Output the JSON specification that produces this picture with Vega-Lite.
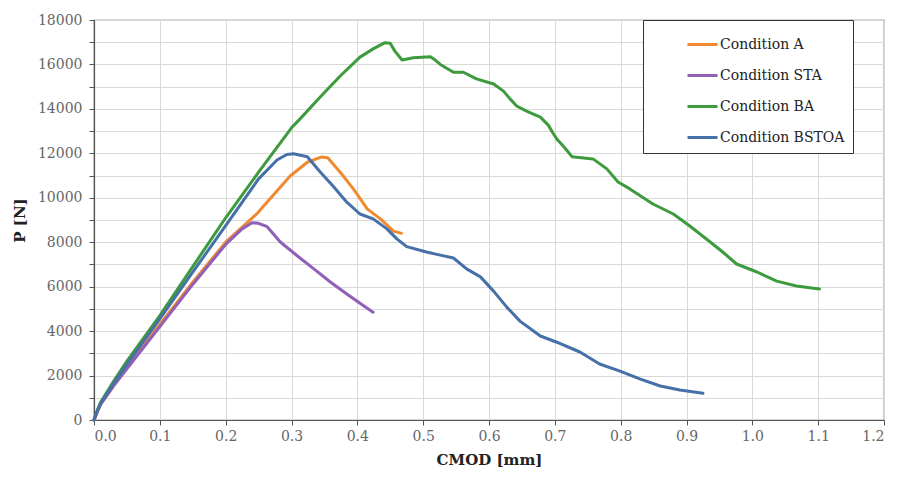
{
  "$schema": "https://vega.github.io/schema/vega-lite/v6.json",
  "width": 790,
  "height": 400,
  "autosize": {"type": "none"},
  "padding": {"left": 94, "top": 20, "right": 13, "bottom": 60},
  "background": "white",
  "config": {
    "view": {"stroke": "#555555", "strokeWidth": 1.2},
    "font": "DejaVu Serif"
  },
  "data": {
    "values": [
      {"c": "Condition A", "x": 0, "y": 0},
      {"c": "Condition A", "x": 0.005, "y": 380},
      {"c": "Condition A", "x": 0.01, "y": 700},
      {"c": "Condition A", "x": 0.03, "y": 1550},
      {"c": "Condition A", "x": 0.05, "y": 2350},
      {"c": "Condition A", "x": 0.1, "y": 4300},
      {"c": "Condition A", "x": 0.15, "y": 6200},
      {"c": "Condition A", "x": 0.2, "y": 8000},
      {"c": "Condition A", "x": 0.248, "y": 9300},
      {"c": "Condition A", "x": 0.298, "y": 10980},
      {"c": "Condition A", "x": 0.324, "y": 11600},
      {"c": "Condition A", "x": 0.345, "y": 11830},
      {"c": "Condition A", "x": 0.355, "y": 11800},
      {"c": "Condition A", "x": 0.374, "y": 11150},
      {"c": "Condition A", "x": 0.394, "y": 10400},
      {"c": "Condition A", "x": 0.415, "y": 9500},
      {"c": "Condition A", "x": 0.435, "y": 9050},
      {"c": "Condition A", "x": 0.455, "y": 8500},
      {"c": "Condition A", "x": 0.467, "y": 8400},

      {"c": "Condition STA", "x": 0, "y": 0},
      {"c": "Condition STA", "x": 0.005, "y": 380},
      {"c": "Condition STA", "x": 0.01, "y": 700},
      {"c": "Condition STA", "x": 0.03, "y": 1550},
      {"c": "Condition STA", "x": 0.05, "y": 2300},
      {"c": "Condition STA", "x": 0.1, "y": 4200},
      {"c": "Condition STA", "x": 0.15, "y": 6100},
      {"c": "Condition STA", "x": 0.2, "y": 7900},
      {"c": "Condition STA", "x": 0.225, "y": 8600},
      {"c": "Condition STA", "x": 0.24, "y": 8880},
      {"c": "Condition STA", "x": 0.25, "y": 8850},
      {"c": "Condition STA", "x": 0.263, "y": 8700},
      {"c": "Condition STA", "x": 0.283, "y": 8010},
      {"c": "Condition STA", "x": 0.309, "y": 7380},
      {"c": "Condition STA", "x": 0.334, "y": 6800},
      {"c": "Condition STA", "x": 0.359, "y": 6210},
      {"c": "Condition STA", "x": 0.384, "y": 5670},
      {"c": "Condition STA", "x": 0.41, "y": 5130},
      {"c": "Condition STA", "x": 0.424, "y": 4850},

      {"c": "Condition BA", "x": 0, "y": 0},
      {"c": "Condition BA", "x": 0.005, "y": 450},
      {"c": "Condition BA", "x": 0.01, "y": 800},
      {"c": "Condition BA", "x": 0.03, "y": 1750},
      {"c": "Condition BA", "x": 0.05, "y": 2650},
      {"c": "Condition BA", "x": 0.1, "y": 4700},
      {"c": "Condition BA", "x": 0.15, "y": 6900},
      {"c": "Condition BA", "x": 0.2, "y": 9100},
      {"c": "Condition BA", "x": 0.25, "y": 11150},
      {"c": "Condition BA", "x": 0.3, "y": 13150},
      {"c": "Condition BA", "x": 0.313, "y": 13550},
      {"c": "Condition BA", "x": 0.344, "y": 14550},
      {"c": "Condition BA", "x": 0.374, "y": 15480},
      {"c": "Condition BA", "x": 0.404, "y": 16330},
      {"c": "Condition BA", "x": 0.424, "y": 16700},
      {"c": "Condition BA", "x": 0.442, "y": 16980},
      {"c": "Condition BA", "x": 0.45, "y": 16950},
      {"c": "Condition BA", "x": 0.457, "y": 16600},
      {"c": "Condition BA", "x": 0.468, "y": 16200},
      {"c": "Condition BA", "x": 0.485, "y": 16300},
      {"c": "Condition BA", "x": 0.511, "y": 16350},
      {"c": "Condition BA", "x": 0.516, "y": 16250},
      {"c": "Condition BA", "x": 0.526, "y": 16000},
      {"c": "Condition BA", "x": 0.546, "y": 15650},
      {"c": "Condition BA", "x": 0.561, "y": 15650},
      {"c": "Condition BA", "x": 0.581, "y": 15350},
      {"c": "Condition BA", "x": 0.607, "y": 15120},
      {"c": "Condition BA", "x": 0.622, "y": 14800},
      {"c": "Condition BA", "x": 0.632, "y": 14450},
      {"c": "Condition BA", "x": 0.642, "y": 14130},
      {"c": "Condition BA", "x": 0.657, "y": 13900},
      {"c": "Condition BA", "x": 0.678, "y": 13630},
      {"c": "Condition BA", "x": 0.69, "y": 13270},
      {"c": "Condition BA", "x": 0.698, "y": 12870},
      {"c": "Condition BA", "x": 0.703, "y": 12650},
      {"c": "Condition BA", "x": 0.715, "y": 12250},
      {"c": "Condition BA", "x": 0.726, "y": 11850},
      {"c": "Condition BA", "x": 0.758, "y": 11750},
      {"c": "Condition BA", "x": 0.779, "y": 11300},
      {"c": "Condition BA", "x": 0.796, "y": 10710},
      {"c": "Condition BA", "x": 0.814, "y": 10400},
      {"c": "Condition BA", "x": 0.849, "y": 9720},
      {"c": "Condition BA", "x": 0.88, "y": 9270},
      {"c": "Condition BA", "x": 0.905, "y": 8730},
      {"c": "Condition BA", "x": 0.936, "y": 8010},
      {"c": "Condition BA", "x": 0.955, "y": 7560},
      {"c": "Condition BA", "x": 0.976, "y": 7020},
      {"c": "Condition BA", "x": 1.007, "y": 6660},
      {"c": "Condition BA", "x": 1.037, "y": 6250},
      {"c": "Condition BA", "x": 1.067, "y": 6030},
      {"c": "Condition BA", "x": 1.102, "y": 5900},

      {"c": "Condition BSTOA", "x": 0, "y": 0},
      {"c": "Condition BSTOA", "x": 0.005, "y": 400},
      {"c": "Condition BSTOA", "x": 0.01, "y": 750},
      {"c": "Condition BSTOA", "x": 0.03, "y": 1650},
      {"c": "Condition BSTOA", "x": 0.05, "y": 2500},
      {"c": "Condition BSTOA", "x": 0.1, "y": 4550},
      {"c": "Condition BSTOA", "x": 0.15, "y": 6650},
      {"c": "Condition BSTOA", "x": 0.2, "y": 8750},
      {"c": "Condition BSTOA", "x": 0.25, "y": 10850},
      {"c": "Condition BSTOA", "x": 0.278, "y": 11700},
      {"c": "Condition BSTOA", "x": 0.293, "y": 11950},
      {"c": "Condition BSTOA", "x": 0.303, "y": 11980},
      {"c": "Condition BSTOA", "x": 0.324, "y": 11850},
      {"c": "Condition BSTOA", "x": 0.344, "y": 11150},
      {"c": "Condition BSTOA", "x": 0.364, "y": 10500},
      {"c": "Condition BSTOA", "x": 0.384, "y": 9800},
      {"c": "Condition BSTOA", "x": 0.404, "y": 9270},
      {"c": "Condition BSTOA", "x": 0.424, "y": 9050},
      {"c": "Condition BSTOA", "x": 0.445, "y": 8600},
      {"c": "Condition BSTOA", "x": 0.46, "y": 8150},
      {"c": "Condition BSTOA", "x": 0.475, "y": 7800},
      {"c": "Condition BSTOA", "x": 0.505, "y": 7560},
      {"c": "Condition BSTOA", "x": 0.526, "y": 7420},
      {"c": "Condition BSTOA", "x": 0.546, "y": 7290},
      {"c": "Condition BSTOA", "x": 0.566, "y": 6800},
      {"c": "Condition BSTOA", "x": 0.587, "y": 6440},
      {"c": "Condition BSTOA", "x": 0.607, "y": 5800},
      {"c": "Condition BSTOA", "x": 0.627, "y": 5080},
      {"c": "Condition BSTOA", "x": 0.647, "y": 4450},
      {"c": "Condition BSTOA", "x": 0.678, "y": 3780},
      {"c": "Condition BSTOA", "x": 0.703, "y": 3500},
      {"c": "Condition BSTOA", "x": 0.738, "y": 3060},
      {"c": "Condition BSTOA", "x": 0.768, "y": 2520},
      {"c": "Condition BSTOA", "x": 0.799, "y": 2200},
      {"c": "Condition BSTOA", "x": 0.829, "y": 1850},
      {"c": "Condition BSTOA", "x": 0.86, "y": 1530},
      {"c": "Condition BSTOA", "x": 0.89, "y": 1350},
      {"c": "Condition BSTOA", "x": 0.925, "y": 1200}
    ]
  },
  "mark": {"type": "line", "strokeWidth": 3, "strokeCap": "round", "strokeJoin": "round"},
  "encoding": {
    "x": {
      "field": "x", "type": "quantitative",
      "scale": {"domain": [0, 1.2], "nice": false, "zero": false},
      "axis": {
        "title": "CMOD [mm]",
        "values": [0, 0.1, 0.2, 0.3, 0.4, 0.5, 0.6, 0.7, 0.8, 0.9, 1.0, 1.1, 1.2],
        "format": ".1f",
        "grid": true, "gridColor": "#d9d9d9", "gridWidth": 1,
        "domainColor": "#555555", "domainWidth": 1.2,
        "tickColor": "#555555", "tickSize": 5,
        "labelFont": "DejaVu Serif", "labelFontSize": 14, "labelColor": "#666666",
        "labelPadding": 4,
        "titleFont": "DejaVu Serif", "titleFontSize": 15, "titleFontWeight": "bold",
        "titleColor": "#222222", "titlePadding": 9
      }
    },
    "y": {
      "field": "y", "type": "quantitative",
      "scale": {"domain": [0, 18000], "nice": false},
      "axis": {
        "title": "P [N]",
        "values": [0, 1000, 2000, 3000, 4000, 5000, 6000, 7000, 8000, 9000, 10000, 11000, 12000, 13000, 14000, 15000, 16000, 17000, 18000],
        "format": "d",
        "labelExpr": "datum.value % 2000 == 0 ? datum.label : ''",
        "grid": true, "gridColor": "#d9d9d9", "gridWidth": 1,
        "domainColor": "#555555", "domainWidth": 1.2,
        "tickColor": "#555555", "tickSize": 5,
        "labelFont": "DejaVu Serif", "labelFontSize": 14, "labelColor": "#666666",
        "labelPadding": 7,
        "titleFont": "DejaVu Serif", "titleFontSize": 15, "titleFontWeight": "bold",
        "titleColor": "#222222", "titlePadding": 10
      }
    },
    "color": {
      "field": "c", "type": "nominal",
      "scale": {
        "domain": ["Condition A", "Condition STA", "Condition BA", "Condition BSTOA"],
        "range": ["#F08A30", "#9060B8", "#3D9A3D", "#4670A8"]
      },
      "legend": {
        "title": null,
        "orient": "none",
        "legendX": 549,
        "legendY": 0,
        "direction": "vertical",
        "symbolType": "stroke",
        "symbolStrokeWidth": 3,
        "symbolSize": 900,
        "symbolOffset": 35,
        "labelFont": "DejaVu Serif",
        "labelFontSize": 14,
        "labelColor": "#222222",
        "labelOffset": 1,
        "labelLimit": 300,
        "rowPadding": 7,
        "padding": 8,
        "strokeColor": "#333333",
        "fillColor": "white"
      }
    }
  }
}
